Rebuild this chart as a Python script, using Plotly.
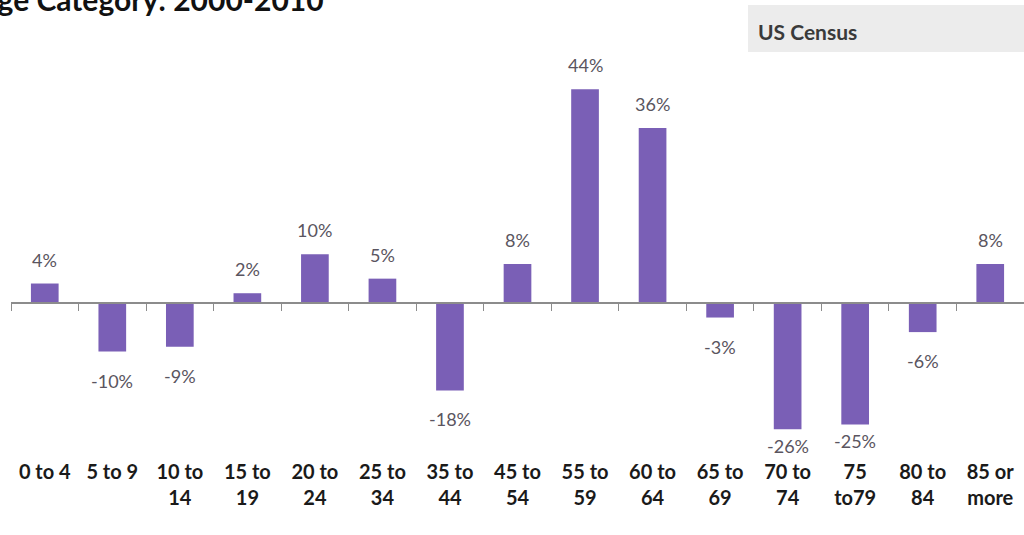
import plotly.graph_objects as go

# age groups and % change 2000-2010
categorias = ['0 to 4', '5 to 9', '10 to<br>14', '15 to<br>19', '20 to<br>24', '25 to<br>34',
              '35 to<br>44', '45 to<br>54', '55 to<br>59', '60 to<br>64', '65 to<br>69',
              '70 to<br>74', '75<br>to79', '80 to<br>84', '85 or<br>more']
cambio = [4, -10, -9, 2, 10, 5, -18, 8, 44, 36, -3, -26, -25, -6, 8]
etiquetas = [f'{v}%' for v in cambio]

titulo = 'Percent Change by Age Category: 2000-2010'
fuente = 'US Census'

morado = '#7a5fb6'
gris = '#5a5560'

fig = go.Figure()
fig.add_trace(go.Bar(x=list(range(len(cambio))), y=cambio,
                     marker=dict(color=morado, line=dict(width=0)),
                     width=0.41, hoverinfo='skip', xaxis='x', yaxis='y'))

# invisible trace so the zero-line axis exists
fig.add_trace(go.Scatter(x=[0], y=[0], mode='markers', marker=dict(opacity=0),
                         xaxis='x2', yaxis='y', showlegend=False, hoverinfo='skip'))

# data labels above / below the bars (the deepest ones get pushed up like excel does)
for i, v in enumerate(cambio):
    if v >= 0:
        desp = 24
    elif v < -20:
        desp = -17
    else:
        desp = -29
    fig.add_annotation(x=i, y=v, text=etiquetas[i], showarrow=False,
                       yanchor='middle', yshift=desp,
                       font=dict(family='Lato', size=18, color=gris))

ymin, ymax = -28, 50

fig.update_layout(
    width=1024, height=535,
    margin=dict(l=11, r=0, t=60, b=96),
    paper_bgcolor='white', plot_bgcolor='white',
    showlegend=False, bargap=0.59,
    xaxis=dict(range=[-0.5, 14.5], tickmode='array',
               tickvals=list(range(len(categorias))), ticktext=categorias,
               showline=False, showgrid=False, zeroline=False, ticks='',
               ticklabelstandoff=19,
               tickfont=dict(family='Lato', size=20, color='#1a1a1a', weight='bold')),
    xaxis2=dict(range=[-0.5, 14.5], overlaying='x', anchor='free',
                position=(0 - ymin) / (ymax - ymin),
                tickmode='array', tickvals=[i - 0.5 for i in range(len(cambio) + 1)],
                showticklabels=False, ticks='outside', ticklen=7, tickcolor='#8c8c8c',
                showline=True, linecolor='#8c8c8c', linewidth=1.5,
                showgrid=False, zeroline=False),
    yaxis=dict(range=[ymin, ymax], visible=False, showgrid=False, zeroline=False),
)

# US Census box
fig.add_shape(type='rect', xref='paper', yref='paper', layer='below',
              x0=0.7275, x1=1.01, y0=1.021, y1=1.145,
              fillcolor='#ececec', line=dict(width=0))
fig.add_annotation(xref='paper', yref='paper', x=0.735, y=1.076,
                   xanchor='left', yanchor='middle', showarrow=False, text=fuente,
                   font=dict(family='Lato', size=21, color='#3a3a3a', weight='bold'))

# title, mostly cut off at the top-left edge
fig.add_annotation(xref='paper', yref='paper', x=(326 - 11) / 1013, y=1.162,
                   xanchor='right', yanchor='middle', showarrow=False, text=titulo,
                   font=dict(family='Lato', size=30, color='#111111', weight='bold'))

# no body margin so the figure sits at the page corner
fig.write_html('out.html', config={'displayModeBar': False},
               post_script="document.body.style.margin='0';")
